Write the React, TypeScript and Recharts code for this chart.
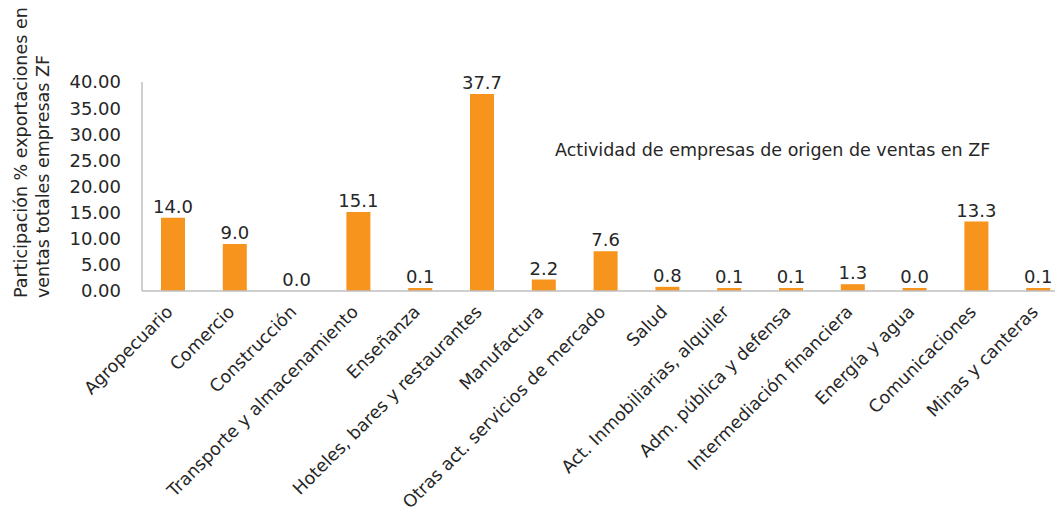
import React from "react";
import { Bar, BarChart, LabelList, XAxis, YAxis } from "recharts";

const categories = [
  "Agropecuario",
  "Comercio",
  "Construcción",
  "Transporte y almacenamiento",
  "Enseñanza",
  "Hoteles, bares y restaurantes",
  "Manufactura",
  "Otras act. servicios de mercado",
  "Salud",
  "Act. Inmobiliarias, alquiler",
  "Adm. pública y defensa",
  "Intermediación financiera",
  "Energía y agua",
  "Comunicaciones",
  "Minas y canteras",
];

// Construcción is a true zero (no bar drawn); Energía y agua rounds to 0.0 but still shows a sliver
const shares = [14.0, 9.0, 0.001, 15.1, 0.1, 37.7, 2.2, 7.6, 0.8, 0.1, 0.1, 1.3, 0.04, 13.3, 0.1];

const yTicks = [0, 5, 10, 15, 20, 25, 30, 35, 40];

const FONT = "'DejaVu Sans', sans-serif";
const TEXT = "#262626";
const ORANGE = "#F7941D";
const AXIS = "#BFBFBF";

const data = categories.map((name, i) => ({ name, value: shares[i] }));

function XTick({ x, y, payload }: any) {
  const ax = x + 1;
  const ay = y + 22;
  return (
    <text
      x={ax}
      y={ay}
      transform={`rotate(-45, ${ax}, ${ay})`}
      textAnchor="end"
      fill={TEXT}
      fontSize={17.5}
      fontFamily={FONT}
    >
      {payload.value}
    </text>
  );
}

export default function App() {
  return (
    <div
      style={{
        position: "fixed",
        left: 0,
        top: 0,
        width: 1055,
        height: 512,
        overflow: "hidden",
        background: "#fff",
      }}
    >
      <BarChart
        width={1070}
        height={512}
        data={data}
        margin={{ top: 82, right: 1, bottom: 0, left: 0 }}
        barSize={24}
      >
        <XAxis
          dataKey="name"
          interval={0}
          height={221}
          tickLine={false}
          tickSize={0}
          tickMargin={0}
          axisLine={{ stroke: AXIS, strokeWidth: 1.5 }}
          tick={<XTick />}
        />
        <YAxis
          width={142}
          domain={[0, 40]}
          ticks={yTicks}
          interval={0}
          tickLine={false}
          tickSize={0}
          tickMargin={21}
          axisLine={{ stroke: AXIS, strokeWidth: 1.5 }}
          tickFormatter={(v: number) => v.toFixed(2)}
          tick={{ fill: TEXT, fontSize: 18, fontFamily: FONT }}
        />
        <Bar
          dataKey="value"
          fill={ORANGE}
          isAnimationActive={false}
          minPointSize={(v: number) => (v < 0.01 ? 0 : 3)}
        >
          <LabelList
            dataKey="value"
            position="top"
            offset={5}
            formatter={(v: any) => Number(v).toFixed(1)}
            fill={TEXT}
            fontSize={18}
            fontFamily={FONT}
          />
        </Bar>
      </BarChart>
      <svg
        width={1055}
        height={512}
        style={{ position: "absolute", left: 0, top: 0, pointerEvents: "none" }}
      >
        <g fill={TEXT} fontFamily={FONT} fontSize={17.5}>
          <text x={27} y={298} transform="rotate(-90, 27, 298)">
            Participación % exportaciones en
          </text>
          <text x={49} y={298} transform="rotate(-90, 49, 298)">
            ventas totales empresas ZF
          </text>
        </g>
        <text x={555} y={156} fill={TEXT} fontFamily={FONT} fontSize={17.5}>
          Actividad de empresas de origen de ventas en ZF
        </text>
      </svg>
    </div>
  );
}
